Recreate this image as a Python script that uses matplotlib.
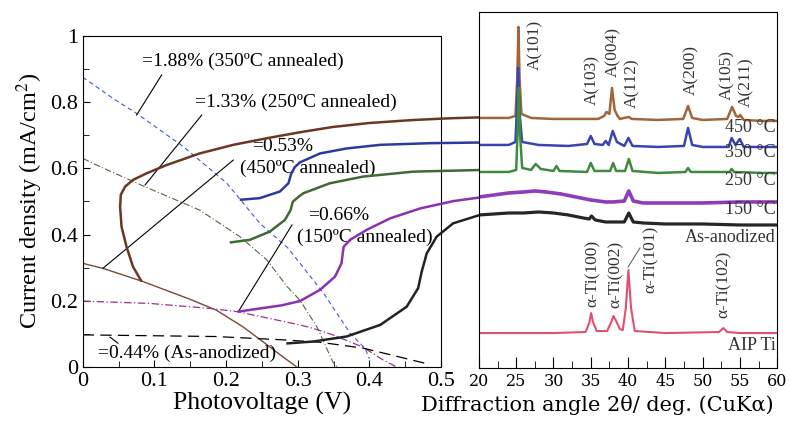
import numpy as np
import matplotlib
matplotlib.use('Agg')
import matplotlib.pyplot as plt
from matplotlib.ticker import MultipleLocator

plt.rcParams['font.family'] = ['Liberation Serif', 'DejaVu Serif']
plt.rcParams['mathtext.fontset'] = 'stix'

# ---------------- J-V curves (left panel) ----------------
v_350 = [0, 0.045, 0.075, 0.14, 0.201, 0.247, 0.286, 0.336, 0.373, 0.394, 0.40]
j_350 = [0.875, 0.807, 0.766, 0.666, 0.555, 0.434, 0.36, 0.223, 0.102, 0.056, 0.025]

v_250 = [0, 0.024, 0.084, 0.163, 0.219, 0.257, 0.285, 0.303, 0.327, 0.349, 0.355]
j_250 = [0.63, 0.605, 0.547, 0.474, 0.394, 0.323, 0.243, 0.202, 0.12, 0.015, 0]

v_450 = [0, 0.028, 0.084, 0.149, 0.186, 0.223, 0.251, 0.279, 0.298]
j_450 = [0.313, 0.298, 0.258, 0.205, 0.172, 0.122, 0.077, 0.031, 0.001]

v_150 = [0, 0.093, 0.177, 0.216, 0.303, 0.321, 0.349, 0.391, 0.42, 0.438]
j_150 = [0.199, 0.192, 0.177, 0.167, 0.127, 0.117, 0.097, 0.06, 0.02, 0]

v_as = [0, 0.186, 0.279, 0.33, 0.391, 0.433, 0.48]
j_as = [0.097, 0.092, 0.082, 0.075, 0.057, 0.035, 0.01]

# connectors from J-V curves to XRD traces (left-panel data units)
con_450_x = [0.082, 0.070, 0.061, 0.054, 0.052, 0.053, 0.059, 0.070, 0.089, 0.117, 0.163,
             0.210, 0.257, 0.303, 0.349, 0.400, 0.461, 0.510, 0.554]
con_450_y = [0.258, 0.303, 0.363, 0.424, 0.484, 0.520, 0.545, 0.565, 0.585, 0.610, 0.645,
             0.671, 0.691, 0.709, 0.725, 0.737, 0.746, 0.751, 0.754]
con_350_x = [0.219, 0.247, 0.275, 0.287, 0.291, 0.296, 0.303, 0.331, 0.368, 0.415, 0.485, 0.554]
con_350_y = [0.505, 0.510, 0.530, 0.555, 0.585, 0.604, 0.618, 0.645, 0.660, 0.671, 0.676, 0.678]
con_250_x = [0.205, 0.233, 0.261, 0.282, 0.290, 0.293, 0.301, 0.308, 0.345, 0.391, 0.461, 0.554]
con_250_y = [0.376, 0.384, 0.409, 0.444, 0.474, 0.499, 0.514, 0.525, 0.555, 0.575, 0.590, 0.595]
con_150_x = [0.216, 0.277, 0.303, 0.331, 0.352, 0.361, 0.364, 0.373, 0.396, 0.429, 0.471,
             0.517, 0.554]
con_150_y = [0.167, 0.186, 0.199, 0.233, 0.273, 0.313, 0.363, 0.384, 0.414, 0.449, 0.479,
             0.501, 0.512]
con_as_x = [0.284, 0.322, 0.368, 0.415, 0.452, 0.468, 0.473, 0.480, 0.494, 0.517, 0.554]
con_as_y = [0.071, 0.077, 0.092, 0.127, 0.182, 0.238, 0.288, 0.343, 0.394, 0.434, 0.459]

# efficiency labels and their leader lines
eff_texts = ['=1.88% (350ºC annealed)', '=1.33% (250ºC annealed)', '=0.53%',
             '(450ºC annealed)', '=0.66%', '(150ºC annealed)', '=0.44% (As-anodized)']
eff_x = [0.082, 0.156, 0.236, 0.219, 0.314, 0.299, 0.021]
eff_y = [0.924, 0.798, 0.665, 0.601, 0.459, 0.393, 0.042]
lead_x = [(0.110, 0.075), (0.166, 0.087), (0.21, 0.028), (0.292, 0.217), (0.049, 0.038)]
lead_y = [(0.882, 0.761), (0.761, 0.55), (0.625, 0.298), (0.429, 0.167), (0.072, 0.09)]

# ---------------- XRD traces (right panel, arb. units) ----------------
tt_450 = [20, 22, 24, 24.9, 25.15, 25.3, 25.45, 25.7, 27, 30, 33, 36, 36.8, 37.1, 37.5, 37.85,
          38.2, 38.6, 38.9, 40.1, 40.5, 44, 47.4, 48.05, 48.6, 50, 53.3, 53.95, 54.5, 54.8,
          55.05, 55.5, 58, 60]
i_450 = [250, 250, 250, 252, 290, 341, 290, 254, 250, 249, 249, 249, 252, 256, 254, 280,
         258, 252, 249, 251, 249, 248, 249, 262, 250, 248, 249, 261, 252, 251,
         253, 248, 247, 247]

tt_350 = [20, 22, 24, 24.9, 25.1, 25.25, 25.45, 25.8, 28, 32, 34.5, 35, 35.5, 36.6, 37.0, 37.4,
          37.95, 38.5, 39.5, 40.05, 40.6, 44, 47.5, 48.05, 48.6, 50, 53.5, 53.9, 54.4, 55.0,
          55.5, 58, 60]
i_350 = [223, 223, 223, 226, 260, 300, 255, 226, 223, 222, 224, 232, 224, 223, 227, 223,
         237, 226, 222, 230, 222, 221, 222, 240, 223, 221, 221, 230, 223, 229,
         221, 221, 221]

tt_250 = [20, 22, 24, 25.0, 25.2, 25.35, 25.5, 25.8, 27, 27.6, 28.3, 30, 30.4, 30.8, 34.5, 35.0,
          35.5, 37.6, 38.0, 38.4, 39.6, 40.1, 40.6, 44, 47.7, 48.05, 48.4, 53.6, 53.9, 54.2,
          58, 60]
i_250 = [196, 196, 196, 198, 240, 280, 235, 200, 198, 204, 199, 197, 202, 197, 196, 205,
         197, 197, 205, 197, 197, 209, 197, 195, 196, 200, 196, 196, 199, 196,
         195, 195]

tt_150 = [20, 22, 24, 26, 27.5, 29, 31, 33, 35, 36, 37, 38, 39.5, 40.1, 40.7, 42, 45, 50, 55, 60]
i_150 = [171, 173, 175, 176, 177, 176, 174, 171, 168, 167, 166, 166, 167, 177, 167, 165, 165,
         165, 166, 166]

tt_as = [20, 22, 24, 26, 28, 30, 32, 34, 34.8, 35.1, 35.6, 37, 38, 39.5, 40.1, 40.7, 42, 45,
         50, 55, 60]
i_as = [153, 154, 155, 155, 156, 155, 153, 150, 149, 152, 148, 146, 146, 146, 155, 146, 145,
        144, 144, 143, 143]

tt_ti = [20, 30, 34.3, 34.8, 35.05, 35.3, 35.8, 37.2, 37.8, 38.05, 38.4, 38.9, 39.3, 39.7,
         40.05, 40.4, 40.9, 45, 52.2, 52.8, 53.3, 55, 60]
i_ti = [35, 35, 36, 45, 55, 46, 37, 37, 47, 52, 47, 39, 38, 60,
        98, 60, 37, 35, 36, 40, 36, 35, 35]

# peak labels (rotated)
peak_labels = ['A(101)', 'A(103)', 'A(004)', 'A(112)', 'A(200)', 'A(105)', 'A(211)',
               'α-Ti(100)', 'α-Ti(002)', 'α-Ti(101)', 'α-Ti(102)']
peak_lx = [27.5, 35.2, 38.0, 40.5, 48.5, 53.3, 55.8, 35.3, 38.4, 43.0, 52.8]
peak_ly = [298, 263, 291, 260, 273, 268, 261, 61, 60, 75, 50]

trace_names = ['450 °C', '350 °C', '250 °C', '150 °C', 'As-anodized', 'AIP Ti']
trace_label_y = [240, 215, 187, 158, 130, 23]

c_brown, c_blue, c_green = '#6a3822', '#2b3a9c', '#3f6a33'
c_purple, c_black = '#8a32b0', '#222222'

fig = plt.figure(figsize=(7.89, 4.25), dpi=100)
ax = fig.add_axes([0.105, 0.1365, 0.454, 0.779])
ax2 = fig.add_axes([0.607, 0.134, 0.378, 0.838])

# left panel
ax.plot(v_350, j_350, color='#3b5bd6', lw=0.8, ls=(0, (4, 3)))
ax.plot(v_250, j_250, color='#4d6b3c', lw=0.8, ls=(0, (6, 2, 1, 2)))
ax.plot(v_450, j_450, color='#7a4a35', lw=1.0)
ax.plot(v_150, j_150, color='#9a3094', lw=0.9, ls=(0, (6, 2, 1, 2)))
ax.plot(v_as, j_as, color='black', lw=0.9, ls=(0, (9, 5)))

for cx, cy, col in [(con_450_x, con_450_y, c_brown), (con_350_x, con_350_y, c_blue),
                    (con_250_x, con_250_y, c_green), (con_150_x, con_150_y, c_purple),
                    (con_as_x, con_as_y, c_black)]:
    ax.plot(cx, cy, color=col, lw=1.8, clip_on=False, zorder=5,
            solid_capstyle='butt', solid_joinstyle='round')

for lx, ly in zip(lead_x, lead_y):
    ax.plot(lx, ly, color='black', lw=0.8)
for t, x, y in zip(eff_texts, eff_x, eff_y):
    ax.text(x, y, t, fontsize=14, ha='left', va='center')

ax.set_xlim(0, 0.5)
ax.set_ylim(0, 1)
ax.xaxis.set_minor_locator(MultipleLocator(0.05))
ax.yaxis.set_minor_locator(MultipleLocator(0.1))
ax.set_xticks([0, 0.1, 0.2, 0.3, 0.4, 0.5])
ax.set_xticklabels(['0', '0.1', '0.2', '0.3', '0.4', '0.5'])
ax.set_yticks([0, 0.2, 0.4, 0.6, 0.8, 1.0])
ax.set_yticklabels(['0', '0.2', '0.4', '0.6', '0.8', '1'])
ax.tick_params(which='both', direction='in', labelsize=16)
ax.tick_params(which='major', length=5)
ax.tick_params(which='minor', length=4)
ax.set_xlabel('Photovoltage (V)', fontsize=18.5, labelpad=1)
ax.set_ylabel('Current density (mA/cm$^2$)', fontsize=17.5, labelpad=4)

# right panel
ax2.plot(tt_450, i_450, color='#a0653a', lw=1.8)
ax2.plot(tt_350, i_350, color='#3a44b0', lw=1.8)
ax2.plot(tt_250, i_250, color='#3f8a3f', lw=1.8)
ax2.plot(tt_150, i_150, color='#8e3cb8', lw=2.6)
ax2.plot(tt_as, i_as, color='#262626', lw=2.3)
ax2.plot(tt_ti, i_ti, color='#e0506e', lw=1.5)

for t, x, y in zip(peak_labels, peak_lx, peak_ly):
    ax2.text(x, y, t, rotation=90, fontsize=12.5, ha='center', va='bottom', color='#333333')
ax2.plot([40.0, 41.6], [101, 120], color='#555555', lw=0.7)
for t, y in zip(trace_names, trace_label_y):
    ax2.text(59.8, y, t, fontsize=13, ha='right', va='center', color='#333333')

ax2.set_xlim(20, 60)
ax2.set_ylim(0, 356)
ax2.set_yticks([])
ax2.xaxis.set_major_locator(MultipleLocator(5))
ax2.xaxis.set_minor_locator(MultipleLocator(2.5))
ax2.tick_params(axis='x', which='both', direction='in', labelsize=11.5)
ax2.tick_params(axis='x', which='major', length=8)
ax2.tick_params(axis='x', which='minor', length=5)
for lab in ax2.get_xticklabels():
    lab.set_family('DejaVu Serif')
ax2.set_xlabel('Diffraction angle 2θ/ deg. (CuKα)', fontsize=15, labelpad=3,
               family='DejaVu Serif')
ax2.xaxis.set_label_coords(0.396, -0.075)

fig.savefig('out.png', dpi=100)
